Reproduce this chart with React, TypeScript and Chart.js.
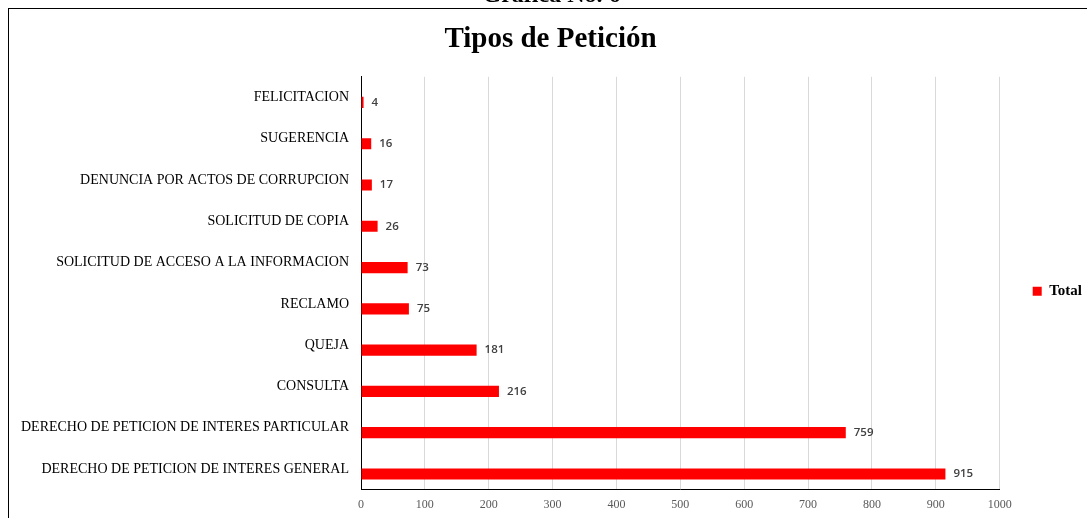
import React, { useEffect, useRef } from "react";
import { Chart, registerables } from "chart.js";

Chart.register(...registerables);

const categories = [
  "FELICITACION",
  "SUGERENCIA",
  "DENUNCIA POR ACTOS DE CORRUPCION",
  "SOLICITUD DE COPIA",
  "SOLICITUD DE ACCESO A LA INFORMACION",
  "RECLAMO",
  "QUEJA",
  "CONSULTA",
  "DERECHO DE PETICION DE INTERES PARTICULAR",
  "DERECHO DE PETICION DE INTERES GENERAL",
];
const totals = [4, 16, 17, 26, 73, 75, 181, 216, 759, 915];
const seriesLabel = "Total";
const xTickValues = [0, 100, 200, 300, 400, 500, 600, 700, 800, 900, 1000];
const chartTitle = "Tipos de Petición";
const caption = "Gráfica No. 6";

const SERIF = "'Liberation Serif', 'Times New Roman', serif";
const BAR_COLOR = "#FF0000";
const BAR_SHIFT = 5;

const barShiftAndLabels = {
  id: "barShiftAndLabels",
  beforeDatasetsDraw(chart: any) {
    chart.ctx.save();
    chart.ctx.translate(0, BAR_SHIFT);
  },
  afterDatasetsDraw(chart: any) {
    const ctx = chart.ctx;
    const meta = chart.getDatasetMeta(0);
    const values = chart.data.datasets[0].data;
    ctx.font = "600 11.5px 'Open Sans', sans-serif";
    ctx.fillStyle = "#404040";
    ctx.textAlign = "left";
    ctx.textBaseline = "middle";
    meta.data.forEach((bar: any, i: number) => {
      ctx.fillText(String(values[i]), bar.x + 8, bar.y);
    });
    ctx.restore();
  },
};

export default function App() {
  const canvasRef = useRef<HTMLCanvasElement | null>(null);

  useEffect(() => {
    if (!canvasRef.current) return;
    const chart = new Chart(canvasRef.current, {
      type: "bar",
      data: {
        labels: categories,
        datasets: [
          {
            label: seriesLabel,
            data: totals,
            backgroundColor: BAR_COLOR,
            borderWidth: 0,
            categoryPercentage: 1,
            barPercentage: 0.27,
          },
        ],
      },
      options: {
        indexAxis: "y",
        animation: false,
        responsive: false,
        maintainAspectRatio: false,
        layout: { padding: { left: 0, right: 2, top: 0, bottom: 9 } },
        plugins: {
          legend: {
            display: true,
            position: "right",
            fullSize: false,
            align: "center",
            title: {
              display: true,
              text: " ",
              padding: { top: 4, bottom: 0 },
              font: { family: SERIF, size: 10 },
            },
            labels: {
              boxWidth: 9,
              boxHeight: 9,
              padding: 33,
              color: "#000",
              font: { family: SERIF, size: 15, weight: "bold" },
            },
          },
          tooltip: { enabled: false },
          title: {
            display: true,
            text: chartTitle,
            color: "#000",
            font: { family: SERIF, size: 29, weight: "bold" },
            padding: { top: 13, bottom: 20 },
          },
        },
        scales: {
          x: {
            type: "linear",
            min: xTickValues[0],
            max: xTickValues[xTickValues.length - 1],
            afterBuildTicks(scale: any) {
              scale.ticks = xTickValues.map((v) => ({ value: v }));
            },
            ticks: {
              color: "#595959",
              font: { family: SERIF, size: 12 },
              padding: 8,
              callback: (v: any) => String(v),
            },
            grid: { color: "#d9d9d9", lineWidth: 1, drawTicks: false },
            border: { display: true, color: "#000", width: 1 },
          },
          y: {
            type: "category",
            afterFit(scale: any) {
              scale.width = 352;
            },
            ticks: {
              color: "#000",
              font: { family: SERIF, size: 14 },
              padding: 12,
            },
            grid: { display: false, drawTicks: false },
            border: { display: true, color: "#000", width: 1 },
          },
        },
      },
      plugins: [barShiftAndLabels],
    });
    return () => chart.destroy();
  }, []);

  return (
    <div>
      <div
        style={{
          position: "fixed",
          top: 8,
          left: 8,
          width: 1087,
          height: 530,
          border: "1px solid #000",
          boxSizing: "border-box",
          background: "#fff",
        }}
      >
        <canvas ref={canvasRef} width={1085} height={520} style={{ display: "block" }} />
      </div>
      <div
        style={{
          position: "fixed",
          top: -20,
          left: 8,
          width: 1087,
          textAlign: "center",
          fontFamily: SERIF,
          fontWeight: "bold",
          fontSize: 24,
          lineHeight: "28px",
          color: "#000",
          pointerEvents: "none",
        }}
      >
        {caption}
      </div>
    </div>
  );
}
